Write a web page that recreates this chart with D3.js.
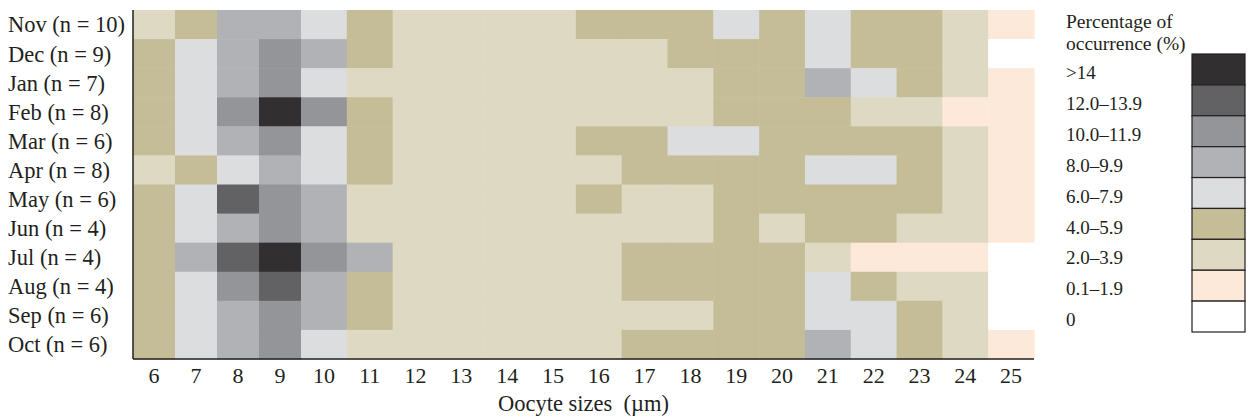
<!DOCTYPE html>
<html>
<head>
<meta charset="utf-8">
<script src="https://cdn.jsdelivr.net/npm/d3@7"></script>
<style>
  body { margin: 0; background: #fff; }
  text { font-family: "Liberation Serif", "DejaVu Serif", serif; fill: #231f20; }
</style>
</head>
<body>
<div id="chart"></div>
<script>
const width = 1248;
const height = 418;

const months = ["Nov (n = 10)", "Dec (n = 9)", "Jan (n = 7)", "Feb (n = 8)", "Mar (n = 6)", "Apr (n = 8)",
  "May (n = 6)", "Jun (n = 4)", "Jul (n = 4)", "Aug (n = 4)", "Sep (n = 6)", "Oct (n = 6)"];

const sizes = [6, 7, 8, 9, 10, 11, 12, 13, 14, 15, 16, 17, 18, 19, 20, 21, 22, 23, 24, 25];

// class index per cell (0 = "0" ... 8 = ">14"), one row per month, columns = sizes
const occurrence = [
  [2, 3, 5, 5, 4, 3, 2, 2, 2, 2, 3, 3, 3, 4, 3, 4, 3, 3, 2, 1],
  [3, 4, 5, 6, 5, 3, 2, 2, 2, 2, 2, 2, 3, 3, 3, 4, 3, 3, 2, 0],
  [3, 4, 5, 6, 4, 2, 2, 2, 2, 2, 2, 2, 2, 3, 3, 5, 4, 3, 2, 1],
  [3, 4, 6, 8, 6, 3, 2, 2, 2, 2, 2, 2, 2, 3, 3, 3, 2, 2, 1, 1],
  [3, 4, 5, 6, 4, 3, 2, 2, 2, 2, 3, 3, 4, 4, 3, 3, 3, 3, 2, 1],
  [2, 3, 4, 5, 4, 3, 2, 2, 2, 2, 2, 3, 3, 3, 3, 4, 4, 3, 2, 1],
  [3, 4, 7, 6, 5, 2, 2, 2, 2, 2, 3, 2, 2, 3, 3, 3, 3, 3, 2, 1],
  [3, 4, 5, 6, 5, 2, 2, 2, 2, 2, 2, 2, 2, 3, 2, 3, 3, 2, 2, 1],
  [3, 5, 7, 8, 6, 5, 2, 2, 2, 2, 2, 3, 3, 3, 3, 2, 1, 1, 1, 0],
  [3, 4, 6, 7, 5, 3, 2, 2, 2, 2, 2, 3, 3, 3, 3, 4, 3, 2, 2, 0],
  [3, 4, 5, 6, 5, 3, 2, 2, 2, 2, 2, 2, 2, 3, 3, 4, 4, 3, 2, 0],
  [3, 4, 5, 6, 4, 2, 2, 2, 2, 2, 2, 3, 3, 3, 3, 5, 4, 3, 2, 1]
];

const classLabels = ["0", "0.1–1.9", "2.0–3.9", "4.0–5.9", "6.0–7.9", "8.0–9.9", "10.0–11.9", "12.0–13.9", ">14"];
const classColors = ["#ffffff", "#fde9d9", "#ddd9c3", "#c4bd97", "#dcdddf", "#b1b2b6", "#949599", "#626264", "#312f30"];

const svg = d3.select("#chart")
  .append("svg")
  .attr("width", width)
  .attr("height", height);

const plot = { left: 133, right: 1034, top: 10, bottom: 359 };

// the first columns (6-9 um) are a little narrower in the figure
const x = d3.scaleLinear()
  .domain([6, 10, 26])
  .range([plot.left, 301, plot.right]);

const y = d3.scaleBand()
  .domain(months)
  .range([plot.top, plot.bottom]);

const color = d3.scaleOrdinal()
  .domain(d3.range(classLabels.length))
  .range(classColors);

const cells = occurrence.flatMap((row, i) =>
  row.map((v, j) => ({ month: months[i], size: sizes[j], v })));

svg.append("g")
  .selectAll("rect")
  .data(cells)
  .join("rect")
  .attr("x", d => x(d.size))
  .attr("y", d => y(d.month))
  .attr("width", d => x(d.size + 1) - x(d.size) + 0.5)
  .attr("height", y.bandwidth() + 0.5)
  .attr("fill", d => color(d.v));

// axes lines
svg.append("line")
  .attr("x1", plot.left).attr("x2", plot.left)
  .attr("y1", plot.top).attr("y2", plot.bottom)
  .attr("stroke", "#231f20").attr("stroke-width", 1.5);
svg.append("line")
  .attr("x1", plot.left).attr("x2", plot.right)
  .attr("y1", plot.bottom).attr("y2", plot.bottom)
  .attr("stroke", "#231f20").attr("stroke-width", 1.5);

// month labels
svg.append("g")
  .selectAll("text")
  .data(months)
  .join("text")
  .attr("x", 8)
  .attr("y", d => y(d) + y.bandwidth() / 2)
  .attr("dy", "0.35em")
  .attr("font-size", 22.5)
  .text(d => d);

// size labels
svg.append("g")
  .selectAll("text")
  .data(sizes)
  .join("text")
  .attr("x", d => (x(d) + x(d + 1)) / 2)
  .attr("y", 383)
  .attr("text-anchor", "middle")
  .attr("font-size", 22)
  .text(d => d);

svg.append("text")
  .attr("x", (plot.left + plot.right) / 2)
  .attr("y", 411)
  .attr("text-anchor", "middle")
  .attr("font-size", 22.5)
  .attr("xml:space", "preserve")
  .text("Oocyte sizes  (µm)");

// legend
const legendOrder = d3.range(classLabels.length).reverse();
const ly = d3.scaleBand()
  .domain(legendOrder)
  .range([54, 332]);

const legend = svg.append("g");
legend.append("text")
  .attr("x", 1066).attr("y", 28)
  .attr("font-size", 19.5)
  .text("Percentage of");
legend.append("text")
  .attr("x", 1066).attr("y", 50)
  .attr("font-size", 19.5)
  .text("occurrence (%)");

legend.selectAll("rect")
  .data(legendOrder)
  .join("rect")
  .attr("x", 1192)
  .attr("y", d => ly(d))
  .attr("width", 53)
  .attr("height", ly.bandwidth())
  .attr("fill", d => color(d))
  .attr("stroke", "#231f20")
  .attr("stroke-width", 1.2);

legend.selectAll("text.lab")
  .data(legendOrder)
  .join("text")
  .attr("class", "lab")
  .attr("x", 1066)
  .attr("y", d => ly(d) + ly.bandwidth() / 2 + 3)
  .attr("dy", "0.35em")
  .attr("font-size", 19)
  .text(d => classLabels[d]);
</script>
</body>
</html>
